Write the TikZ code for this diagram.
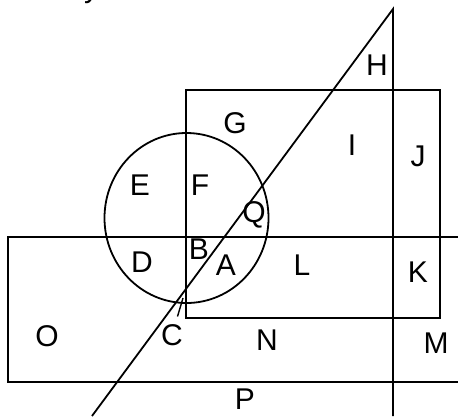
\documentclass[tikz,border=0pt]{standalone}
\usepackage{fontspec}
\setmainfont{Liberation Sans}
\tikzset{region/.style={line width=1.8pt},leader/.style={line width=1.4pt},
 every node/.style={font=\fontsize{30}{31}\selectfont,inner sep=0pt}}

\begin{document}
\begin{tikzpicture}[x=1pt,y=-1pt]
\useasboundingbox (0,0) rectangle (458,416);
\coordinate (apex) at (393,9);
\coordinate (foot) at (92,416);
\coordinate (base) at (393,416);
\coordinate (c-tip) at (183,298);
% outer box runs off the right edge
\draw[region] (458,237) -- (8,237) -- (8,382) -- (458,382);
\draw[region] (186,90) rectangle (440,318);
\draw[region] (186.5,218) ellipse [x radius=82pt,y radius=85pt];
\draw[region] (foot) -- (apex) -- (base);
% cut-off letter at the top
\begin{scope}
\clip (0,0) rectangle (458,416);
\node[anchor=base west] (cut) at (84,-2.5) {y};
\end{scope}
\node (H) at (377,65) {H};
\node (G) at (235,123) {G};
\node (I) at (352,145) {I};
\node (J) at (418,156) {J};
\node (E) at (140,185) {E};
\node (F) at (200,185) {F};
\node (Q) at (254,215) {Q};
\node (D) at (142,262) {D};
\node (B) at (199,249) {B};
\node (A) at (226,265) {A};
\node (L) at (302,265) {L};
\node (K) at (418,272) {K};
\node (O) at (47,336) {O};
\node (C) at (172,335) {C};
\node (N) at (267,340) {N};
\node (M) at (436,343) {M};
\node (P) at (245,399) {P};
\draw[leader,shorten <=8pt] (C) -- (c-tip);
\end{tikzpicture}
\end{document}
